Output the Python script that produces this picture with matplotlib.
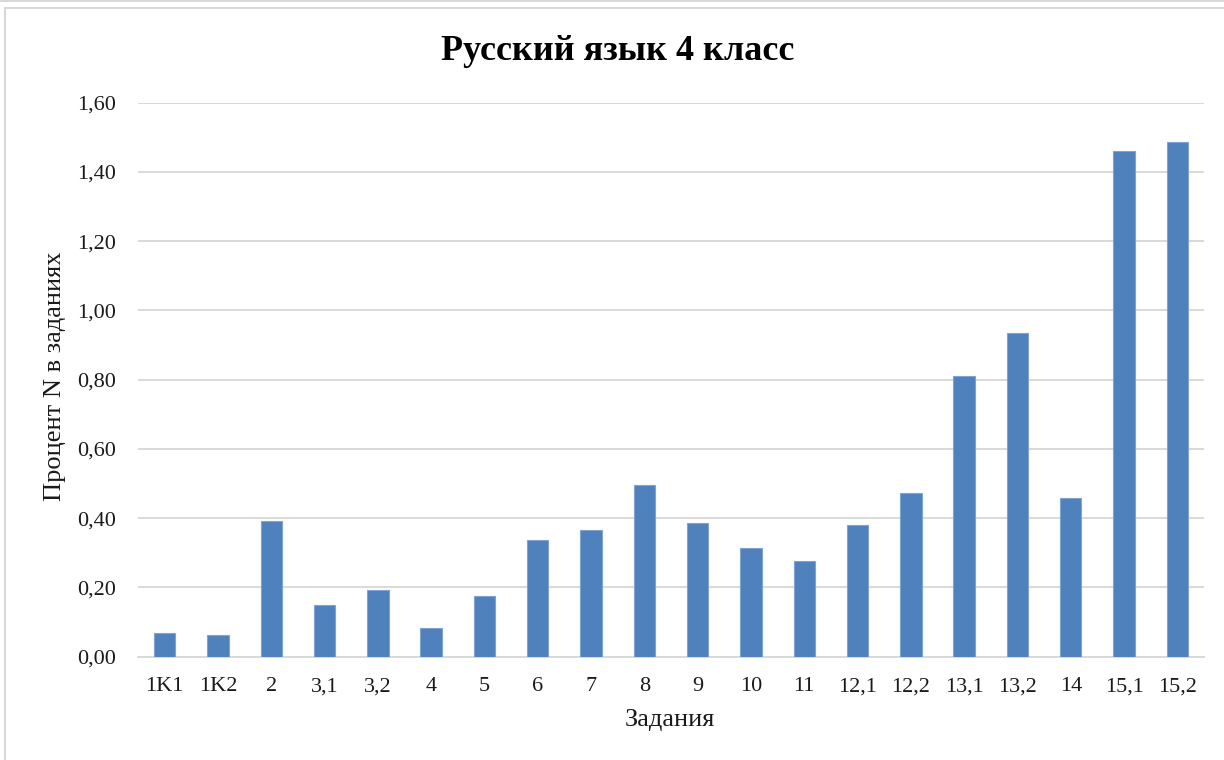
import matplotlib
matplotlib.use("Agg")
import matplotlib.pyplot as plt
from matplotlib.patches import Rectangle
from matplotlib.ticker import FuncFormatter

categories = ["1K1", "1K2", "2", "3,1", "3,2", "4", "5", "6", "7", "8", "9", "10",
              "11", "12,1", "12,2", "13,1", "13,2", "14", "15,1", "15,2"]
values = [0.067, 0.063, 0.391, 0.148, 0.191, 0.081, 0.174, 0.336, 0.366, 0.496,
          0.387, 0.314, 0.275, 0.380, 0.471, 0.810, 0.936, 0.457, 1.460, 1.486]
yticks = [0.0, 0.2, 0.4, 0.6, 0.8, 1.0, 1.2, 1.4, 1.6]

title = "Русский язык 4 класс"
xlabel = "Задания"
ylabel = "Процент N в заданиях"

plt.rcParams['font.family'] = ['Liberation Serif', 'DejaVu Serif']

fig = plt.figure(figsize=(12.24, 7.60), dpi=100)
fig.patch.set_facecolor("white")

# outer chart frame
fig.add_artist(Rectangle((5 / 1224, -0.05), 1.2, 1 - 8 / 760 + 0.05,
                         transform=fig.transFigure, fill=False,
                         edgecolor="#d9d9d9", linewidth=1.5))
fig.add_artist(Rectangle((0, 1 - 2 / 760), 1, 2 / 760, transform=fig.transFigure,
                         facecolor="#d9d9d9", edgecolor="none"))

ax = fig.add_axes([138 / 1224, 1 - 656.5 / 760, (1204 - 138) / 1224, (656.5 - 102.7) / 760])
x = range(len(categories))
ax.bar(x, values, width=0.4, color="#4F81BD", edgecolor="#7FA3D2", linewidth=0.8, zorder=3)

ax.set_xlim(-0.5, len(categories) - 0.5)
ax.set_ylim(0, 1.6)
ax.set_yticks(yticks)
ax.yaxis.set_major_formatter(FuncFormatter(lambda v, p: f"{v:.2f}".replace(".", ",")))
ax.set_xticks(list(x))
ax.set_xticklabels(categories)
ax.tick_params(axis="both", length=0, labelsize=16, colors="#1a1a1a")
ax.tick_params(axis="y", pad=16)
ax.tick_params(axis="x", pad=15)

ax.grid(axis="y", color="#d9d9d9", linewidth=1.4, zorder=0)
for s in ["top", "right", "left"]:
    ax.spines[s].set_visible(False)
ax.spines["bottom"].set_color("#d9d9d9")
ax.spines["bottom"].set_linewidth(1.4)

fig.text(618 / 1224, 1 - 51 / 760, title, ha="center", va="center",
         fontsize=26, fontweight="bold", color="black")
fig.text(670 / 1224, 1 - 720 / 760, xlabel, ha="center", va="center", fontsize=19, color="#1a1a1a")
fig.text(55 / 1224, 1 - 376 / 760, ylabel, ha="center", va="center", rotation=90,
         fontsize=19, color="#1a1a1a")

fig.savefig("out.png", dpi=100, facecolor="white")
